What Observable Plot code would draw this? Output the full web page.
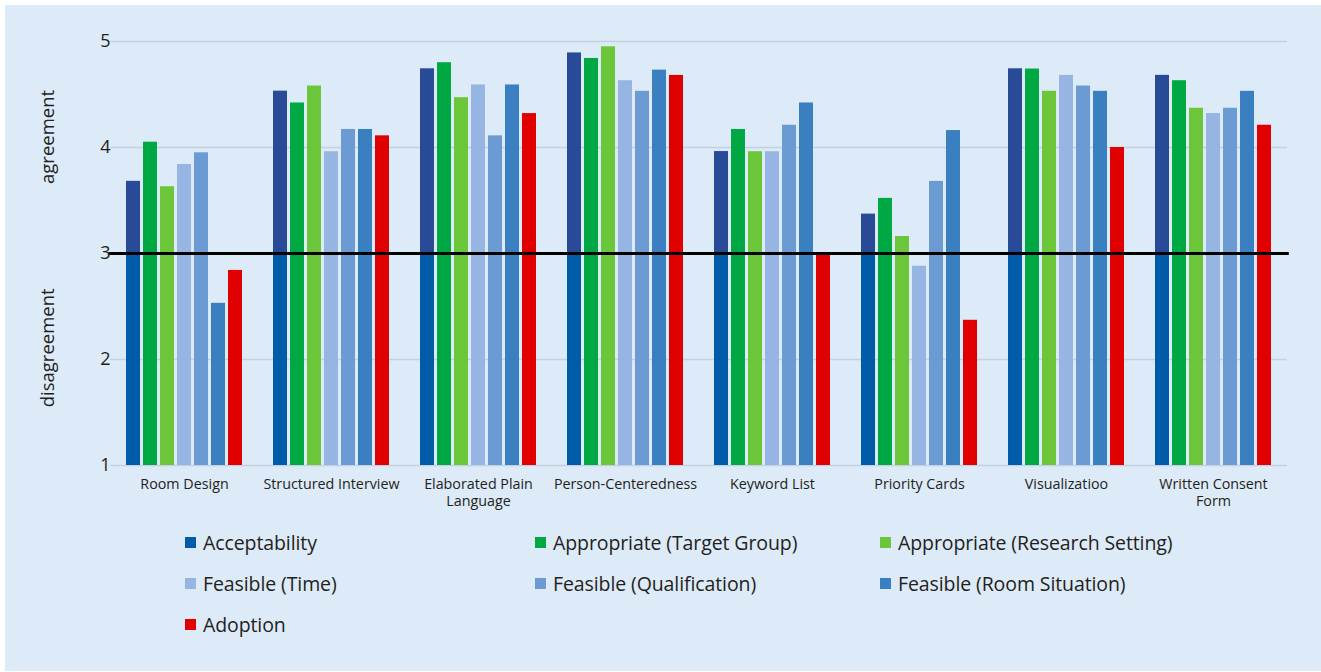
<!DOCTYPE html>
<html><head><meta charset="utf-8">
<script src="https://cdn.jsdelivr.net/npm/d3@7"></script>
<script src="https://cdn.jsdelivr.net/npm/@observablehq/plot@0.6"></script>
<style>
html,body{margin:0;padding:0;background:#ffffff;}
body{width:1321px;height:672px;position:relative;overflow:hidden;font-family:"Open Sans",sans-serif;}
#panel{position:absolute;left:5px;top:5px;right:0;bottom:1px;background:#ddeaf7;}
#chart{position:absolute;left:0;top:0;}
#legend{position:absolute;left:185px;top:522px;display:grid;grid-template-columns:350px 345px 330px;grid-auto-rows:41px;}
.item{display:flex;align-items:center;font-size:19.5px;color:#231f20;white-space:nowrap;letter-spacing:-0.1px;}
.sw{width:11px;height:11px;margin-right:7px;flex:none;}
</style></head><body>
<div id="panel"></div><div id="chart"></div><div id="legend"></div>
<script>
const categories = ["Room Design","Structured Interview","Elaborated Plain Language","Person-Centeredness","Keyword List","Priority Cards","Visualizatioo","Written Consent Form"];
const categoryLabels = ["Room Design","Structured Interview","Elaborated Plain\nLanguage","Person-Centeredness","Keyword List","Priority Cards","Visualizatioo","Written Consent\nForm"];
const series = ["Acceptability","Appropriate (Target Group)","Appropriate (Research Setting)","Feasible (Time)","Feasible (Qualification)","Feasible (Room Situation)","Adoption"];
const seriesColors = ["#005ba9","#00a843","#6cc63a","#97b5e2","#6b9bd2","#3a80c1","#e00000"];
const acceptabilityAboveColor = "#284a97";

const acceptability        = [3.68, 4.53, 4.74, 4.89, 3.96, 3.37, 4.74, 4.68];
const appropriateTarget    = [4.05, 4.42, 4.80, 4.84, 4.17, 3.52, 4.74, 4.63];
const appropriateResearch  = [3.63, 4.58, 4.47, 4.95, 3.96, 3.16, 4.53, 4.37];
const feasibleTime         = [3.84, 3.96, 4.59, 4.63, 3.96, 2.88, 4.68, 4.32];
const feasibleQualification= [3.95, 4.17, 4.11, 4.53, 4.21, 3.68, 4.58, 4.37];
const feasibleRoom         = [2.53, 4.17, 4.59, 4.73, 4.42, 4.16, 4.53, 4.53];
const adoption             = [2.84, 4.11, 4.32, 4.68, 3.00, 2.37, 4.00, 4.21];

const yTicks = [1, 2, 3, 4, 5];
const neutral = 3;
const sideLabels = [{text: "agreement", y: 4.1}, {text: "disagreement", y: 2.11}];

const seriesValues = [acceptability, appropriateTarget, appropriateResearch, feasibleTime, feasibleQualification, feasibleRoom, adoption];
const rows = [];
categories.forEach((c, i) => series.forEach((s, j) => rows.push({category: c, series: s, value: seriesValues[j][i]})));
const aboveRows = rows.filter(d => d.series === "Acceptability" && d.value > neutral);
const labelOf = new Map(categories.map((c, i) => [c, categoryLabels[i]]));

const gapHalf = 13.8;
const chart = Plot.plot({
  width: 1321,
  height: 515,
  marginTop: 41,
  marginBottom: 50,
  marginLeft: 108,
  marginRight: 33,
  style: {background: "transparent", fontFamily: "'Open Sans', sans-serif", color: "#231f20"},
  fx: {domain: categories, paddingInner: 0.186, paddingOuter: 0.093, label: null},
  x: {domain: series, paddingInner: 0.2, paddingOuter: 0, axis: null},
  y: {domain: [1, 5], label: null},
  color: {domain: series, range: seriesColors},
  marks: [
    Plot.ruleY(yTicks, {stroke: "#c3d1e2", strokeWidth: 1.5, insetLeft: -gapHalf, insetRight: -gapHalf}),
    Plot.rectY(rows, {fx: "category", x: "series", y1: 1, y2: "value", fill: "series"}),
    Plot.rectY(aboveRows, {fx: "category", x: "series", y1: neutral, y2: "value", fill: acceptabilityAboveColor}),
    Plot.ruleY([neutral], {stroke: "#000", strokeWidth: 3, insetLeft: -gapHalf - 2, insetRight: -gapHalf - 2}),
    Plot.axisY({ticks: yTicks, tickFormat: "d", tickSize: 0, tickPadding: 14, fontSize: 18, label: null}),
    Plot.axisFx({anchor: "bottom", tickSize: 0, tickPadding: 12, fontSize: 14.3, label: null, tickFormat: d => labelOf.get(d), lineHeight: 1.15}),
    Plot.text(sideLabels, {fx: () => categories[0], y: "y", text: "text", frameAnchor: "left", textAnchor: "middle", dx: -76, rotate: -90, fontSize: 18.5})
  ]
});
document.getElementById("chart").appendChild(chart);

const legend = document.getElementById("legend");
series.forEach((s, j) => {
  const item = document.createElement("div");
  item.className = "item";
  const sw = document.createElement("span");
  sw.className = "sw";
  sw.style.background = seriesColors[j];
  const t = document.createElement("span");
  t.textContent = s;
  item.appendChild(sw); item.appendChild(t);
  legend.appendChild(item);
});
</script>
</body></html>
